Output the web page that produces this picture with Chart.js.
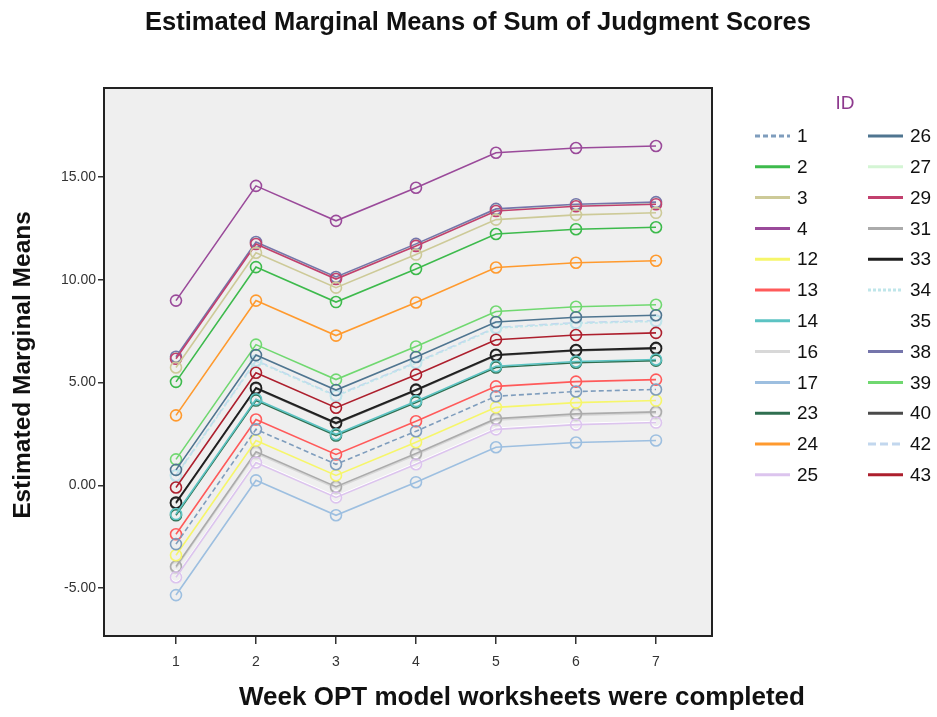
<!DOCTYPE html>
<html>
<head>
<meta charset="utf-8">
<title>Estimated Marginal Means of Sum of Judgment Scores</title>
<script src="https://cdn.jsdelivr.net/npm/chart.js@4.4.1/dist/chart.umd.min.js"></script>
<style>
    html, body { margin: 0; padding: 0; background: #fff; }
    #wrap { width: 937px; height: 717px; }
</style>
</head>
<body>
<div id="wrap"><canvas id="EmmChart" width="937" height="717"></canvas></div>
<script>
// values, one array per ID, weeks 1..7

const weeks = [1, 2, 3, 4, 5, 6, 7]
const yTicks = [-5, 0, 5, 10, 15]

const ids = ['1', '2', '3', '4', '12', '13', '14', '16', '17', '23', '24', '25',
    '26', '27', '29', '31', '33', '34', '35', '38', '39', '40', '42', '43']

const id1 = [-2.86, 2.72, 1.02, 2.63, 4.33, 4.56, 4.66]
const id2 = [5.03, 10.61, 8.91, 10.52, 12.22, 12.45, 12.55]
const id3 = [5.73, 11.31, 9.61, 11.22, 12.92, 13.15, 13.25]
const id4 = [8.98, 14.56, 12.86, 14.47, 16.17, 16.40, 16.50]
const id12 = [-3.40, 2.18, 0.48, 2.09, 3.79, 4.02, 4.12]
const id13 = [-2.38, 3.20, 1.50, 3.11, 4.81, 5.04, 5.14]
const id14 = [-1.40, 4.18, 2.48, 4.09, 5.79, 6.02, 6.12]
const id16 = [-4.02, 1.56, -0.14, 1.47, 3.17, 3.40, 3.50]
const id17 = [-5.34, 0.24, -1.46, 0.15, 1.85, 2.08, 2.18]
const id23 = [-1.46, 4.12, 2.42, 4.03, 5.73, 5.96, 6.06]
const id24 = [3.40, 8.98, 7.28, 8.89, 10.59, 10.82, 10.92]
const id25 = [-4.47, 1.11, -0.59, 1.02, 2.72, 2.95, 3.05]
const id26 = [0.75, 6.33, 4.63, 6.24, 7.94, 8.17, 8.27]
const id27 = [6.20, 11.78, 10.08, 11.69, 13.39, 13.62, 13.72]
const id29 = [6.15, 11.73, 10.03, 11.64, 13.34, 13.57, 13.67]
const id31 = [-3.95, 1.63, -0.07, 1.54, 3.24, 3.47, 3.57]
const id33 = [-0.84, 4.74, 3.04, 4.65, 6.35, 6.58, 6.68]
const id34 = [0.45, 6.03, 4.33, 5.94, 7.64, 7.87, 7.97]
const id35 = [-4.42, 1.16, -0.54, 1.07, 2.77, 3.00, 3.10]
const id38 = [6.25, 11.83, 10.13, 11.74, 13.44, 13.67, 13.77]
const id39 = [1.26, 6.84, 5.14, 6.75, 8.45, 8.68, 8.78]
const id40 = [-0.88, 4.70, 3.00, 4.61, 6.31, 6.54, 6.64]
const id42 = [0.49, 6.07, 4.37, 5.98, 7.68, 7.91, 8.01]
const id43 = [-0.11, 5.47, 3.77, 5.38, 7.08, 7.31, 7.41]

const seriesValues = [id1, id2, id3, id4, id12, id13, id14, id16, id17, id23, id24, id25,
    id26, id27, id29, id31, id33, id34, id35, id38, id39, id40, id42, id43]

const lineColors = ['#7f9dbd', '#3dba4c', '#cdca98', '#9a4a9a', '#f6f66a', '#ff5a5a',
    '#5cc3c3', '#d8d8d8', '#9dbfe0', '#2f6f50', '#ff9a2e', '#dcc4ee',
    '#4f7590', '#d4f5d4', '#c2406e', '#ababab', '#1e1e1e', '#bfe6ea',
    '#ffffff', '#7575ab', '#70d870', '#4a4a4a', '#c2d7ee', '#ad1f2d']

const dashed = { '1': [5, 3], '34': [3, 2], '42': [8, 4] }
// pale lines go underneath the others
const underneath = ['16', '27', '34', '35', '42']

const font = '"Liberation Sans", Arial, sans-serif'
const plotBg = '#efefef'

const framePlugin = {
    id: 'frame',
    beforeDraw: function (chart) {
        const a = chart.chartArea
        const c = chart.ctx
        c.save()
        c.fillStyle = plotBg
        c.fillRect(a.left, a.top, a.right - a.left, a.bottom - a.top)
        c.restore()
    },
    afterDraw: function (chart) {
        const a = chart.chartArea
        const c = chart.ctx
        c.save()
        c.strokeStyle = '#222'
        c.lineWidth = 2
        c.strokeRect(a.left, a.top, a.right - a.left, a.bottom - a.top)

        // titles
        c.fillStyle = '#111'
        c.textAlign = 'center'
        c.textBaseline = 'middle'
        c.font = 'bold 25.5px ' + font
        c.fillText('Estimated Marginal Means of Sum of Judgment Scores', 478, 23)
        c.font = 'bold 26px ' + font
        c.fillText('Week OPT model worksheets were completed', 522, 698)
        c.font = 'bold 24.5px ' + font
        c.save()
        c.translate(23, 365)
        c.rotate(-Math.PI / 2)
        c.fillText('Estimated Marginal Means', 0, 0)
        c.restore()

        // legend
        c.font = '19px ' + font
        c.fillStyle = '#8e3a8e'
        c.fillText('ID', 845, 104)
        c.textAlign = 'left'
        chart.data.datasets.forEach((ds, i) => {
            const col = i < 12 ? 0 : 1
            const row = i % 12
            const x = col === 0 ? 755 : 868
            const y = 136 + row * 30.8
            c.strokeStyle = ds.borderColor
            c.lineWidth = 3
            c.setLineDash(ds.borderDash || [])
            c.beginPath()
            c.moveTo(x, y)
            c.lineTo(x + 35, y)
            c.stroke()
            c.setLineDash([])
            c.fillStyle = '#111'
            c.fillText(ds.label, x + 42, y + 1)
        })
        c.restore()
    }
}

const ctx = document.getElementById('EmmChart').getContext('2d')

new Chart(ctx, {
    type: 'line',
    data: {
        datasets: ids.map((id, i) => ({
            label: id,
            data: weeks.map((w, j) => ({ x: w, y: seriesValues[i][j] })),
            order: underneath.includes(id) ? 1 : 0,
            borderColor: lineColors[i],
            borderDash: dashed[id] || [],
            borderWidth: 1.6,
            pointStyle: 'circle',
            pointRadius: 5.5,
            pointBorderWidth: 1.6,
            pointBackgroundColor: 'rgba(0,0,0,0)',
            pointHoverRadius: 5.5,
            tension: 0
        }))
    },
    options: {
        responsive: false,
        animation: false,
        layout: { padding: { left: 0, top: 88, right: 225, bottom: 0 } },
        plugins: {
            legend: { display: false },
            title: { display: false },
            tooltip: { enabled: false }
        },
        scales: {
            x: {
                type: 'linear',
                min: 0.1,
                max: 7.7,
                afterFit: s => { s.height = 81 },
                afterBuildTicks: s => { s.ticks = weeks.map(v => ({ value: v })) },
                grid: { drawOnChartArea: false, drawTicks: true, tickLength: 8, color: '#333', lineWidth: 1.5 },
                border: { display: false },
                ticks: { color: '#333', padding: 10, font: { family: font, size: 14 }, callback: v => String(v) }
            },
            y: {
                min: -7.33,
                max: 19.32,
                afterFit: s => { s.width = 104 },
                afterBuildTicks: s => { s.ticks = yTicks.map(v => ({ value: v })) },
                grid: { drawOnChartArea: false, drawTicks: true, tickLength: 6, color: '#333', lineWidth: 1.5 },
                border: { display: false },
                ticks: { color: '#333', padding: 2, font: { family: font, size: 14 }, callback: v => v.toFixed(2) }
            }
        }
    },
    plugins: [framePlugin]
})
</script>
</body>
</html>
